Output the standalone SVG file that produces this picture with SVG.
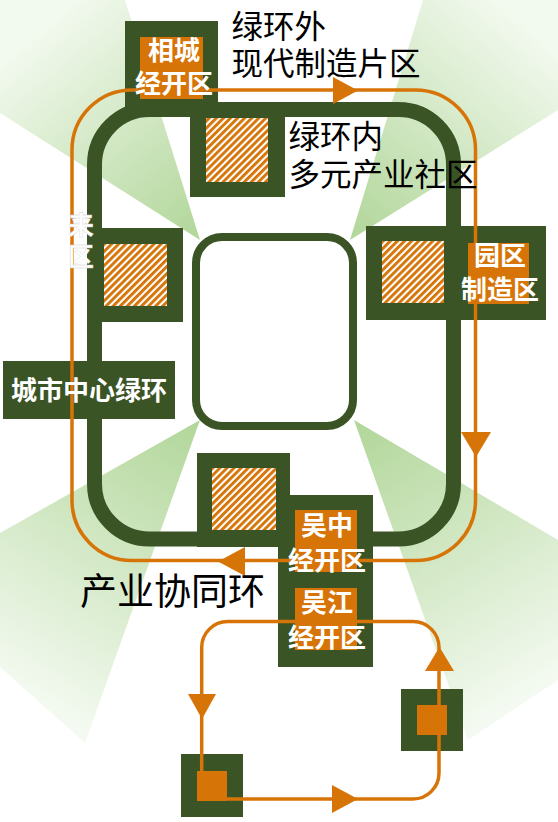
<svg xmlns="http://www.w3.org/2000/svg" width="558" height="822" viewBox="0 0 558 822">
<style>
.dk{fill:#3a5425}
.or{fill:#d77407}
.ht{fill:url(#hatch)}
.ln{fill:none;stroke:#d77407;stroke-width:3.5}
.ah{fill:#d77407}
.wl{font-family:"Noto Sans CJK SC","Noto Sans",sans-serif;font-weight:bold;font-size:26px;fill:#ffffff;text-anchor:middle}
.bl{font-family:"Noto Sans CJK SC","Noto Sans",sans-serif;font-size:31.5px;fill:#000000}
.big{font-size:37px}
</style>
<defs>
<pattern id="hatch" patternUnits="userSpaceOnUse" width="5" height="5" patternTransform="rotate(45)">
<rect width="5" height="5" fill="#ffffff"/>
<rect width="2.9" height="5" fill="#d77407"/>
</pattern>
<linearGradient id="gTL" gradientUnits="userSpaceOnUse" x1="200" y1="240" x2="30" y2="40">
<stop offset="0" stop-color="#b1d699"/><stop offset="1" stop-color="#f2f9ee"/>
</linearGradient>
<linearGradient id="gTR" gradientUnits="userSpaceOnUse" x1="350" y1="240" x2="530" y2="30">
<stop offset="0" stop-color="#b1d699"/><stop offset="1" stop-color="#f2f9ee"/>
</linearGradient>
<linearGradient id="gBL" gradientUnits="userSpaceOnUse" x1="200" y1="420" x2="30" y2="700">
<stop offset="0" stop-color="#b1d699"/><stop offset="1" stop-color="#f4faf1"/>
</linearGradient>
<linearGradient id="gBR" gradientUnits="userSpaceOnUse" x1="354" y1="420" x2="520" y2="700">
<stop offset="0" stop-color="#b1d699"/><stop offset="1" stop-color="#f4faf1"/>
</linearGradient>
</defs>

<g id="background-fans">
<polygon points="200,240 0,113 0,0 125,0" fill="url(#gTL)"/>
<polygon points="350,240 423,0 558,0 558,110" fill="url(#gTR)"/>
<polygon points="200,420 0,533 0,667 85,743" fill="url(#gBL)"/>
<polygon points="354,420 558,540 558,680 468,740" fill="url(#gBR)"/>
</g>

<g id="city-green-ring">
<rect x="94.5" y="109.5" width="359" height="429.5" rx="55" fill="none" stroke="#3a5425" stroke-width="15"/>
</g>

<g id="center-core">
<rect x="196" y="237" width="157" height="189" rx="26" fill="#ffffff" stroke="#3a5425" stroke-width="8"/>
</g>

<g id="xiangcheng">
<rect class="dk" x="125" y="21" width="93" height="89"/>
<rect class="or" x="140" y="37" width="63" height="62"/>
</g>

<g id="community-top">
<rect class="dk" x="190" y="102" width="95" height="95"/>
<rect class="ht" x="206" y="118" width="62" height="64"/>
</g>

<g id="community-left">
<rect class="dk" x="88" y="228" width="95" height="94"/>
<rect class="ht" x="104" y="244" width="63" height="62"/>
</g>

<g id="yuanqu">
<rect class="dk" x="366" y="226" width="180" height="94"/>
<rect class="ht" x="382" y="241" width="62" height="62"/>
<rect class="or" x="468" y="243" width="61" height="61"/>
</g>

<g id="community-bottom">
<rect class="dk" x="197" y="453" width="93" height="94"/>
<rect class="ht" x="212" y="468" width="64" height="62"/>
</g>

<g id="wuzhong">
<rect class="dk" x="278" y="495" width="95" height="78"/>
<rect class="or" x="295" y="510" width="62" height="62"/>
</g>

<g id="wujiang">
<rect class="dk" x="278" y="573" width="95" height="94"/>
<rect class="or" x="295" y="588" width="62" height="62"/>
</g>

<g id="ring-label">
<rect class="dk" x="3" y="361" width="172" height="58"/>
</g>

<g id="node-sw">
<rect class="dk" x="181" y="754" width="62" height="63"/>
</g>

<g id="node-e">
<rect class="dk" x="401" y="689" width="62" height="62"/>
</g>

<g id="connectors">
<rect class="ln" x="72" y="90" width="403.5" height="470.5" rx="60"/>
<polygon class="ah" points="333,77 333,104 358,90.5"/>
<polygon class="ah" points="461,432 491,432 476,457"/>
<polygon class="ah" points="245,547 245,576 218,561.5"/>
<rect class="ln" x="201.7" y="621.5" width="237.3" height="177.5" rx="26"/>
<polygon class="ah" points="188,694 216,694 202,719"/>
<polygon class="ah" points="332,785 332,813 358,799"/>
<polygon class="ah" points="425,671 454,671 439.5,647"/>
</g>

<g id="small-node-cores">
<rect class="or" x="197" y="771" width="30" height="30"/>
<rect class="or" x="417" y="705" width="30" height="30"/>
</g>

<g id="labels">
<text class="wl" x="174" y="60">相城</text>
<text class="wl" x="174" y="93">经开区</text>
<text class="wl" x="500" y="265">园区</text>
<text class="wl" x="500" y="299">制造区</text>
<text class="wl" x="327" y="535">吴中</text>
<text class="wl" x="327" y="570">经开区</text>
<text class="wl" x="327" y="612">吴江</text>
<text class="wl" x="327" y="647">经开区</text>
<text class="wl" x="89" y="400">城市中心绿环</text>
<text class="wl" x="81" y="235" stroke="#d0d0d0" stroke-width="0.3">来</text>
<text class="wl" x="81" y="266" stroke="#d0d0d0" stroke-width="0.3">区</text>
<text class="bl" x="231.5" y="38">绿环外</text>
<text class="bl" x="231.5" y="75">现代制造片区</text>
<text class="bl" x="288.5" y="148">绿环内</text>
<text class="bl" x="288.5" y="186">多元产业社区</text>
<text class="bl big" x="80" y="605">产业协同环</text>
</g>
</svg>
